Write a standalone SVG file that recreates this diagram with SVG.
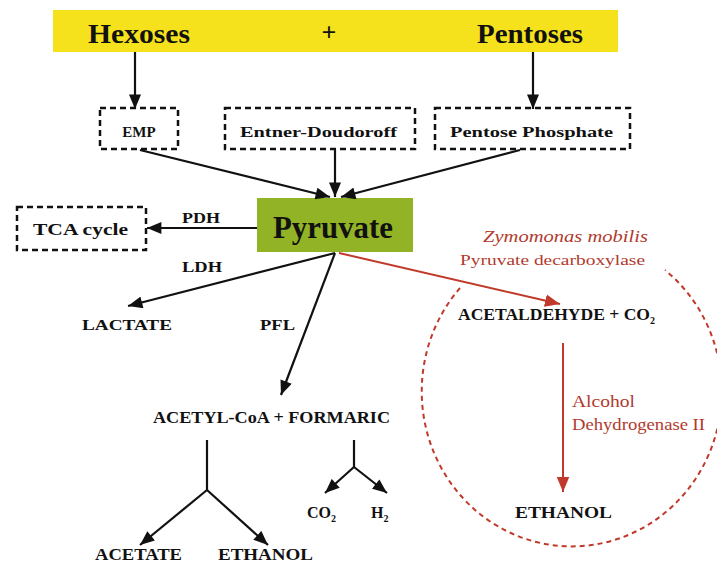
<svg xmlns="http://www.w3.org/2000/svg" width="717" height="570" viewBox="0 0 717 570">
<style>
.lbl{font-family:"Liberation Serif","Times New Roman","DejaVu Serif",serif;font-weight:bold;fill:#111}
.red{font-family:"Liberation Serif","Times New Roman","DejaVu Serif",serif;fill:#b23a2e}
.dbox{fill:none;stroke:#111;stroke-width:2.5;stroke-dasharray:6 4}
.ln{fill:none;stroke:#111;stroke-width:2.2}
.rln{fill:none;stroke:#c0392b;stroke-width:2}
</style>
<defs>
<marker id="ah" viewBox="0 0 12 10" refX="12" refY="5" markerWidth="15" markerHeight="12" markerUnits="userSpaceOnUse" orient="auto"><path d="M0,0 L12,5 L0,10 Z" fill="#111"/></marker>
<marker id="ahr" viewBox="0 0 12 10" refX="12" refY="5" markerWidth="15" markerHeight="13" markerUnits="userSpaceOnUse" orient="auto"><path d="M0,0 L12,5 L0,10 Z" fill="#c0392b"/></marker>
</defs>
<rect width="717" height="570" fill="#fff"/>

<g id="sugars">
<rect x="53" y="10" width="565" height="42" fill="#f6e21c"/>
<text class="lbl" x="88" y="43" font-size="27" textLength="102" lengthAdjust="spacingAndGlyphs">Hexoses</text>
<text class="lbl" x="329" y="41" font-size="26" text-anchor="middle">+</text>
<text class="lbl" x="477" y="43" font-size="27" textLength="106" lengthAdjust="spacingAndGlyphs">Pentoses</text>
</g>

<g id="emp">
<rect class="dbox" x="100" y="108" width="78" height="41"/>
<text class="lbl" x="139" y="137" font-size="15" text-anchor="middle">EMP</text>
</g>
<g id="ed">
<rect class="dbox" x="225" y="108" width="190" height="41"/>
<text class="lbl" x="240" y="137" font-size="15" textLength="157" lengthAdjust="spacingAndGlyphs">Entner-Doudoroff</text>
</g>
<g id="pp">
<rect class="dbox" x="435" y="108" width="195" height="41"/>
<text class="lbl" x="450" y="137" font-size="15" textLength="163" lengthAdjust="spacingAndGlyphs">Pentose Phosphate</text>
</g>

<g id="pyruvate">
<rect x="257" y="198" width="156" height="54" fill="#93b326"/>
<text class="lbl" x="273" y="238" font-size="31" textLength="120" lengthAdjust="spacingAndGlyphs">Pyruvate</text>
</g>

<g id="tca">
<rect class="dbox" x="17" y="207" width="129" height="43"/>
<text class="lbl" x="33" y="235" font-size="16" textLength="95" lengthAdjust="spacingAndGlyphs">TCA cycle</text>
</g>

<g id="labels">
<text class="lbl" x="182" y="223" font-size="15" textLength="38" lengthAdjust="spacingAndGlyphs">PDH</text>
<text class="lbl" x="182" y="272" font-size="15" textLength="40" lengthAdjust="spacingAndGlyphs">LDH</text>
<text class="lbl" x="260" y="330" font-size="15" textLength="35" lengthAdjust="spacingAndGlyphs">PFL</text>
</g>

<g id="lactate"><text class="lbl" x="82" y="330" font-size="15" textLength="90" lengthAdjust="spacingAndGlyphs">LACTATE</text></g>
<g id="acetylcoa"><text class="lbl" x="153" y="423" font-size="16" textLength="237" lengthAdjust="spacingAndGlyphs">ACETYL-CoA + FORMARIC</text></g>
<g id="acetate"><text class="lbl" x="95" y="560" font-size="16" textLength="87" lengthAdjust="spacingAndGlyphs">ACETATE</text></g>
<g id="ethanol1"><text class="lbl" x="218" y="560" font-size="16" textLength="95" lengthAdjust="spacingAndGlyphs">ETHANOL</text></g>
<g id="co2"><text class="lbl" x="307" y="518" font-size="16">CO<tspan font-size="10" dy="4">2</tspan></text></g>
<g id="h2"><text class="lbl" x="371" y="518" font-size="16">H<tspan font-size="10" dy="4">2</tspan></text></g>

<g id="zymomonas">
<path class="rln" d="M460,288 A150 155 0 1 0 665,270" stroke-width="2.5" stroke-dasharray="5 4"/>
<text class="red" x="483" y="242" font-size="16" font-style="italic" textLength="165" lengthAdjust="spacingAndGlyphs">Zymomonas mobilis</text>
<text class="red" x="460" y="265" font-size="15" textLength="185" lengthAdjust="spacingAndGlyphs">Pyruvate decarboxylase</text>
<text class="red" x="572" y="407" font-size="16" textLength="63" lengthAdjust="spacingAndGlyphs">Alcohol</text>
<text class="red" x="572" y="430" font-size="16" textLength="133" lengthAdjust="spacingAndGlyphs">Dehydrogenase II</text>
</g>
<g id="acetaldehyde"><text class="lbl" x="458" y="320" font-size="16"><tspan textLength="192" lengthAdjust="spacingAndGlyphs">ACETALDEHYDE + CO</tspan><tspan font-size="10" dy="4">2</tspan></text></g>
<g id="ethanol2"><text class="lbl" x="515" y="518" font-size="16" textLength="97" lengthAdjust="spacingAndGlyphs">ETHANOL</text></g>

<g id="connectors">
<line class="ln" x1="135" y1="52" x2="135" y2="109" marker-end="url(#ah)"/>
<line class="ln" x1="533" y1="52" x2="533" y2="109" marker-end="url(#ah)"/>
<line class="ln" x1="140" y1="150" x2="330" y2="197" marker-end="url(#ah)"/>
<line class="ln" x1="335" y1="150" x2="335" y2="197" marker-end="url(#ah)"/>
<line class="ln" x1="520" y1="150" x2="341" y2="197" marker-end="url(#ah)"/>
<line class="ln" x1="257" y1="228" x2="147" y2="228" marker-end="url(#ah)"/>
<line class="ln" x1="335" y1="253" x2="128" y2="306" marker-end="url(#ah)"/>
<line class="ln" x1="335" y1="253" x2="281" y2="395" marker-end="url(#ah)"/>
<line class="rln" x1="339" y1="253" x2="560" y2="304" marker-end="url(#ahr)"/>
<line class="rln" x1="563" y1="343" x2="563" y2="492" marker-end="url(#ahr)"/>
<polyline class="ln" points="207,440 207,490"/>
<line class="ln" x1="207" y1="490" x2="140" y2="545" marker-end="url(#ah)"/>
<line class="ln" x1="207" y1="490" x2="268" y2="545" marker-end="url(#ah)"/>
<polyline class="ln" points="354,440 354,467"/>
<line class="ln" x1="354" y1="467" x2="325" y2="493" marker-end="url(#ah)"/>
<line class="ln" x1="354" y1="467" x2="387" y2="493" marker-end="url(#ah)"/>
</g>
</svg>
